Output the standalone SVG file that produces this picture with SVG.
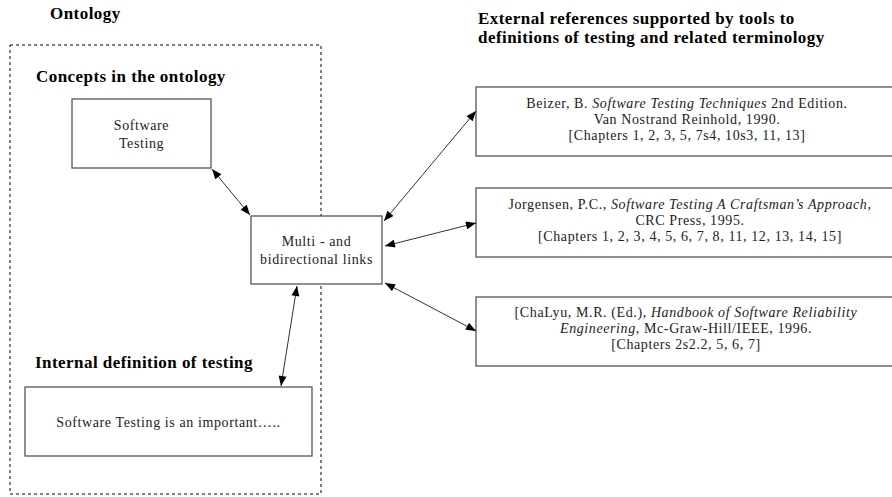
<svg xmlns="http://www.w3.org/2000/svg" width="892" height="497" viewBox="0 0 892 497">
<style>
text{font-family:'Liberation Serif','DejaVu Serif',serif}
.t{font-size:14px;fill:#222;text-anchor:middle;letter-spacing:0.6px}
.h{font-size:17px;font-weight:bold;fill:#000;letter-spacing:0.45px}
.box{fill:#fff;stroke:#555;stroke-width:1.3}
.c{stroke:#333;stroke-width:1;fill:none;marker-start:url(#ah);marker-end:url(#ah)}
</style>
<defs>
<marker id="ah" viewBox="0 0 10 8" refX="10" refY="4" markerWidth="11" markerHeight="8" markerUnits="userSpaceOnUse" orient="auto-start-reverse">
<path d="M0,0 L10,4 L0,8 Z" fill="#000"/>
</marker>
</defs>
<rect width="892" height="497" fill="#fff"/>
<text class="h" x="50" y="19">Ontology</text>
<rect x="10" y="45" width="311" height="449" fill="none" stroke="#000" stroke-width="1" stroke-dasharray="3,3"/>
<text class="h" x="36" y="82">Concepts in the ontology</text>
<text class="h" x="35" y="368">Internal definition of testing</text>
<text class="h" x="478" y="24">External references  supported by tools to</text>
<text class="h" x="478" y="43">definitions of testing and related terminology</text>
<g id="software-testing">
<rect class="box" x="72" y="99" width="139" height="69"/>
<text class="t" x="141.5" y="130">Software</text>
<text class="t" x="141.5" y="148">Testing</text>
</g>
<g id="links">
<rect class="box" x="251" y="216" width="131" height="68"/>
<text class="t" x="316.5" y="246">Multi - and</text>
<text class="t" x="316.5" y="264">bidirectional links</text>
</g>
<g id="internal-def">
<rect class="box" x="25" y="387" width="287" height="69"/>
<text class="t" x="168.5" y="427">Software Testing is an important…..</text>
</g>
<g id="beizer">
<rect class="box" x="476" y="87" width="420" height="69"/>
<text class="t" x="687" y="108">Beizer, B. <tspan font-style="italic">Software Testing Techniques</tspan> 2nd Edition.</text>
<text class="t" x="687" y="124">Van Nostrand Reinhold, 1990.</text>
<text class="t" x="687" y="140">[Chapters 1, 2, 3, 5, 7s4, 10s3, 11, 13]</text>
</g>
<g id="jorgensen">
<rect class="box" x="476" y="188" width="420" height="69"/>
<text class="t" x="690" y="209">Jorgensen, P.C., <tspan font-style="italic">Software Testing A Craftsman’s Approach</tspan>,</text>
<text class="t" x="690" y="225">CRC Press, 1995.</text>
<text class="t" x="690" y="241">[Chapters 1, 2, 3, 4, 5, 6, 7, 8, 11, 12, 13, 14, 15]</text>
</g>
<g id="chalyu">
<rect class="box" x="476" y="297" width="420" height="69"/>
<text class="t" x="686" y="317">[ChaLyu, M.R. (Ed.), <tspan font-style="italic">Handbook of Software Reliability</tspan></text>
<text class="t" x="686" y="333"><tspan font-style="italic">Engineering</tspan>, Mc-Graw-Hill/IEEE, 1996.</text>
<text class="t" x="686" y="349">[Chapters 2s2.2, 5, 6, 7]</text>
</g>
<g id="connectors">
<line class="c" x1="212" y1="169" x2="250" y2="215"/>
<line class="c" x1="384" y1="221" x2="476" y2="111"/>
<line class="c" x1="385" y1="246" x2="476" y2="223"/>
<line class="c" x1="385" y1="283" x2="476" y2="331"/>
<line class="c" x1="297" y1="286" x2="281" y2="386"/>
</g>
</svg>
